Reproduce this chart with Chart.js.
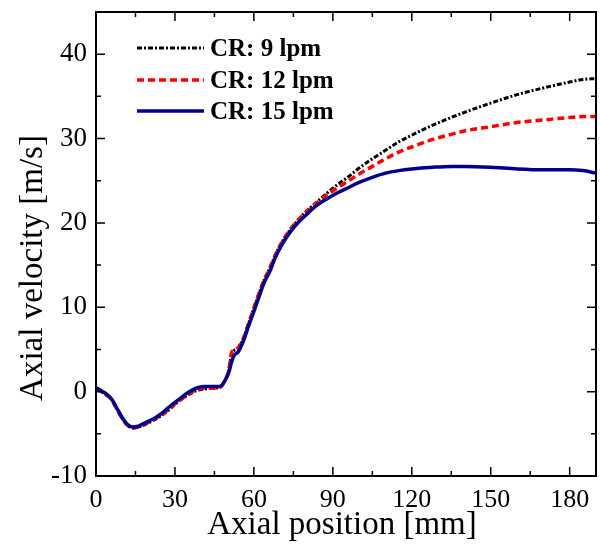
<!DOCTYPE html>
<html>
<head>
<meta charset="utf-8">
<script src="https://cdn.jsdelivr.net/npm/chart.js@4"></script>
<style>
  html, body { margin: 0; padding: 0; background: #fff; }
  #chart { display: block; }
</style>
</head>
<body>
<canvas id="chart" width="600" height="553"></canvas>
<script>
// axial positions [mm]
var positions = [0, 2, 4, 6, 8, 10, 12, 14, 16, 18,
  20, 23, 26, 29, 32, 35, 38, 41, 44, 47,
  49, 50.5, 51.5, 52.5, 54, 56, 58, 60, 62, 64,
  66, 68, 71, 74, 77, 80, 84, 88, 92, 96,
  100, 105, 110, 115, 120, 128, 135, 140, 150, 160,
  170, 180, 185, 190];

// axial velocity [m/s] for each carrier rate
var cr9 = [0.4, 0.0, -0.4, -1.0, -2.1, -3.2, -4.0, -4.3, -4.2, -4.0,
  -3.7, -3.2, -2.6, -1.8, -1.0, -0.4, 0.1, 0.3, 0.4, 0.5,
  1.3, 2.6, 4.5, 4.9, 5.2, 6.3, 8.1, 9.9, 11.7, 13.3,
  14.6, 16.1, 17.9, 19.3, 20.4, 21.4, 22.5, 23.6, 24.6, 25.5,
  26.5, 27.6, 28.6, 29.6, 30.4, 31.6, 32.5, 33.1, 34.2, 35.2,
  36.0, 36.7, 37.0, 37.1];
var cr12 = [0.4, 0.0, -0.4, -1.0, -2.1, -3.2, -4.0, -4.3, -4.2, -3.9,
  -3.6, -3.1, -2.5, -1.7, -1.0, -0.3, 0.2, 0.4, 0.4, 0.5,
  1.3, 2.6, 4.6, 4.9, 5.2, 6.3, 8.1, 9.9, 11.7, 13.3,
  14.6, 16.1, 17.9, 19.3, 20.4, 21.3, 22.4, 23.4, 24.2, 25.0,
  25.8, 26.7, 27.6, 28.4, 29.0, 29.9, 30.5, 30.9, 31.4, 31.9,
  32.2, 32.5, 32.6, 32.6];
var cr15 = [0.5, 0.1, -0.3, -0.9, -2.0, -3.1, -3.9, -4.2, -4.1, -3.8,
  -3.5, -3.0, -2.3, -1.5, -0.8, -0.1, 0.4, 0.6, 0.6, 0.6,
  1.3, 2.3, 3.5, 4.3, 4.7, 6.0, 7.8, 9.5, 11.3, 13.0,
  14.2, 15.8, 17.6, 19.0, 20.1, 21.0, 22.1, 22.9, 23.6, 24.2,
  24.8, 25.4, 25.9, 26.2, 26.4, 26.6, 26.7, 26.7, 26.6, 26.4,
  26.3, 26.3, 26.2, 25.9];

var seriesLabels = ["CR: 9 lpm", "CR: 12 lpm", "CR: 15 lpm"];

// tick values
var xTicks = [0, 30, 60, 90, 120, 150, 180];
var xMinorTicks = [15, 45, 75, 105, 135, 165];
var yTicks = [-10, 0, 10, 20, 30, 40];
var yMinorTicks = [-5, 5, 15, 25, 35];

function toPoints(ys) {
  return positions.map(function (x, i) { return { x: x, y: ys[i] }; });
}

var serif = "'Liberation Serif', 'Times New Roman', serif";

// frame with inward ticks on all four sides, axis titles, legend
var framePlugin = {
  id: "frame",
  afterDraw: function (chart) {
    var ctx = chart.ctx;
    var a = chart.chartArea;
    var xs = chart.scales.x, ys = chart.scales.y;
    ctx.save();
    ctx.strokeStyle = "#000";
    ctx.lineWidth = 2;
    ctx.setLineDash([]);
    ctx.strokeRect(a.left, a.top, a.right - a.left, a.bottom - a.top);
    ctx.lineWidth = 1.5;
    ctx.beginPath();
    function xt(v, len) {
      var p = xs.getPixelForValue(v);
      ctx.moveTo(p, a.bottom); ctx.lineTo(p, a.bottom - len);
      ctx.moveTo(p, a.top); ctx.lineTo(p, a.top + len);
    }
    function yt(v, len) {
      var p = ys.getPixelForValue(v);
      ctx.moveTo(a.left, p); ctx.lineTo(a.left + len, p);
      ctx.moveTo(a.right, p); ctx.lineTo(a.right - len, p);
    }
    xTicks.forEach(function (v) { xt(v, 9); });
    xMinorTicks.forEach(function (v) { xt(v, 5); });
    yTicks.forEach(function (v) { yt(v, 9); });
    yMinorTicks.forEach(function (v) { yt(v, 5); });
    ctx.stroke();

    // axis titles
    ctx.fillStyle = "#000";
    ctx.font = "33px " + serif;
    ctx.textAlign = "center";
    ctx.textBaseline = "middle";
    ctx.fillText("Axial position [mm]", 342, 525);
    ctx.save();
    ctx.translate(33, 268);
    ctx.rotate(-Math.PI / 2);
    ctx.fillText("Axial velocity [m/s]", 0, 0);
    ctx.restore();

    // legend
    var rows = [48, 80, 111];
    ctx.font = "bold 25px " + serif;
    ctx.textAlign = "left";
    chart.data.datasets.forEach(function (ds, i) {
      var y = rows[i];
      ctx.strokeStyle = ds.borderColor;
      ctx.lineWidth = ds.borderWidth;
      ctx.setLineDash(ds.borderDash || []);
      ctx.beginPath();
      ctx.moveTo(137, y);
      ctx.lineTo(204, y);
      ctx.stroke();
      ctx.setLineDash([]);
      ctx.fillText(ds.label, 210, y + 2);
    });
    ctx.restore();
  }
};

var chart = new Chart(document.getElementById("chart"), {
  type: "line",
  data: {
    datasets: [
      {
        label: seriesLabels[0],
        data: toPoints(cr9),
        borderColor: "#000000",
        borderWidth: 3,
        borderDash: [5, 2, 2, 2],
        order: 2
      },
      {
        label: seriesLabels[1],
        data: toPoints(cr12),
        borderColor: "#ff0000",
        borderWidth: 3.5,
        borderDash: [7, 4],
        order: 1
      },
      {
        label: seriesLabels[2],
        data: toPoints(cr15),
        borderColor: "#00008b",
        borderWidth: 3.5,
        order: 0
      }
    ]
  },
  options: {
    responsive: false,
    animation: false,
    layout: { padding: { left: 0, top: 12, right: 4, bottom: 0 } },
    elements: {
      point: { radius: 0 },
      line: { cubicInterpolationMode: "monotone", fill: false }
    },
    plugins: {
      legend: { display: false },
      tooltip: { enabled: false }
    },
    scales: {
      x: {
        type: "linear",
        min: 0,
        max: 190,
        afterBuildTicks: function (scale) {
          scale.ticks = xTicks.map(function (v) { return { value: v }; });
        },
        afterFit: function (scale) {
          scale.height = 77;
          scale.paddingLeft = 0;
          scale.paddingRight = 0;
        },
        grid: { display: false, drawTicks: false },
        border: { display: false },
        ticks: {
          color: "#000",
          padding: 9,
          maxRotation: 0,
          font: { family: serif, size: 26 }
        }
      },
      y: {
        type: "linear",
        min: -10,
        max: 45,
        afterBuildTicks: function (scale) {
          scale.ticks = yTicks.map(function (v) { return { value: v }; });
        },
        afterFit: function (scale) {
          scale.width = 96;
          scale.paddingTop = 0;
          scale.paddingBottom = 0;
        },
        grid: { display: false, drawTicks: false },
        border: { display: false },
        ticks: {
          color: "#000",
          padding: 9,
          font: { family: serif, size: 27 }
        }
      }
    }
  },
  plugins: [framePlugin]
});
</script>
</body>
</html>
